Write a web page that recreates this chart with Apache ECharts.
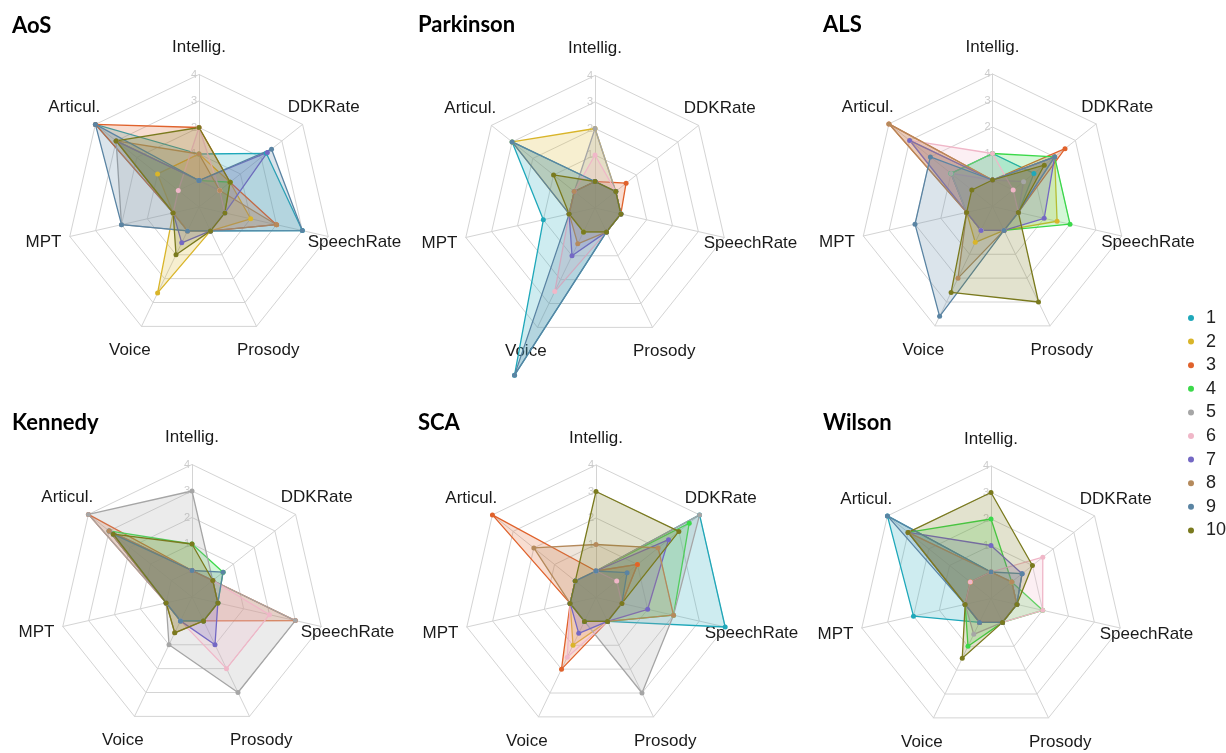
<!DOCTYPE html>
<html>
<head>
<meta charset="utf-8">
<script src="https://cdn.jsdelivr.net/npm/echarts@6/dist/echarts.min.js"></script>
<style>
html,body{margin:0;padding:0;background:#fff;}
#main{width:1226px;height:753px;}
</style>
</head>
<body>
<div id="main"></div>
<script>
// ---- data ----
const axisNames = ['Intellig.', 'DDKRate', 'SpeechRate', 'Prosody', 'Voice', 'MPT', 'Articul.'];
const groupNames = ['1', '2', '3', '4', '5', '6', '7', '8', '9', '10'];
const panelTitles = ['AoS', 'Parkinson', 'ALS', 'Kennedy', 'SCA', 'Wilson'];
const ringTicks = [1, 2, 3, 4];
const scaleMin = -1;
const scaleMax = 4;

// rows: groups 1..10 ; columns: Intellig., DDKRate, SpeechRate, Prosody, Voice, MPT, Articul.
const aosValues = [
  [1, 2.25, 3, 0, 0, 0, 4],
  [1, 0.5, 1, 0, 2.6, 0, 1],
  [2, 0.5, 2, 0, 0, 0, 4],
  [0, 0.5, 0, 0, 0, 0, 3],
  [0, 0, 0, 0, 0, 2, 3],
  [2, 0, 0, 0, 0, 0, 0],
  [0, 2.3, 0, 0, 0.5, 0, 3],
  [1, 0, 2, 0, 0, 0, 3],
  [0, 2.5, 3, 0, 0, 2, 4],
  [2, 0.5, 0, 0, 1, 0, 3]
];
const parkinsonValues = [
  [0, 0, 0, 0, 6, 1, 3],
  [2, 0, 0, 0, 0, 0, 3],
  [0, 0.5, 0, 0, 0, 0, 0],
  [0, 0, 0, 0, 0, 0, 0],
  [2, 0, 0, 0, 0, 0, 0],
  [1, 0, 0, 0, 2.5, 0, 0],
  [0, 0, 0, 0, 1, 0, 0],
  [0, 0, 0, 0, 0.5, 0, 0],
  [0, 0, 0, 0, 6, 0, 3],
  [0, 0, 0, 0, 0, 0, 1]
];
const alsValues = [
  [1, 1, 0, 0, 0, 0, 1],
  [0, 2, 1.5, 0, 0.5, 0, 3],
  [0, 2.5, 0, 0, 0, 0, 4],
  [1, 2, 2, 0, 0, 0, 1],
  [0, 0.5, 0, 0, 0, 0, 1],
  [1, 0, 0, 0, 0, 0, 3],
  [0, 2, 1, 0, 0, 0, 3],
  [0, 2, 0, 0, 2, 0, 4],
  [0, 2, 0, 0, 3.6, 2, 2],
  [0, 1.5, 0, 3, 2.6, 0, 0]
];
const kennedyValues = [
  [0, 0, 0, 0, 0, 0, 3],
  [0, 0, 0, 0, 0, 0, 3],
  [0, 0, 3, 0, 0, 0, 4],
  [1, 0.5, 0, 0, 0, 0, 3],
  [3, 0, 3, 3, 1, 0, 4],
  [0, 0, 2, 2, 0, 0, 3],
  [0, 0, 0, 1, 0, 0, 3],
  [0, 0, 0, 0, 0.5, 0, 3],
  [0, 0.5, 0, 0, 0, 0, 2.8],
  [1, 0, 0, 0, 0.5, 0, 2.8]
];
const scaValues = [
  [0, 4, 4, 0, 0, 0, 0],
  [0, 1, 0, 0, 1, 0, 0],
  [0, 1, 0, 0, 2, 0, 4],
  [0, 3.5, 2, 0, 0, 0, 0],
  [0, 4, 2, 3, 0, 0, 0],
  [0, 0, 0, 0, 1.5, 0, 0],
  [0, 2.5, 1, 0, 0.5, 0, 0],
  [1, 2, 2, 0, 0, 0, 2],
  [0, 0.5, 0, 0, 0, 0, 0],
  [3, 3, 0, 0, 0, 0, 0]
];
const wilsonValues = [
  [0, 0, 0, 0, 0, 2, 4],
  [0, 0, 0, 0, 0, 0, 0],
  [0, 0, 0, 0, 0, 0, 0],
  [2, 0, 1, 0, 1, 0, 3],
  [0, 0, 0, 0, 0.5, 0, 3],
  [0, 1.5, 1, 0, 0, 0, 0],
  [1, 0.5, 0, 0, 0, 0, 3],
  [0, 0, 0, 0, 0, 0, 3],
  [0, 0.5, 0, 0, 0, 0, 4],
  [3, 1, 0, 0, 1.5, 0, 3]
];

// ---- styling / layout ----
const palette = ['#1FA8BA', '#D9B52A', '#E0622C', '#3BD94A', '#A6A6A6',
                 '#F0B7C8', '#7468C4', '#B58A5C', '#5A84A3', '#7A7A1E'];
const panelValues = [aosValues, parkinsonValues, alsValues, kennedyValues, scaValues, wilsonValues];
const panelCenters = [[199, 207], [595, 208], [992.5, 206.5], [192, 597], [596, 597.5], [991, 598.5]];
const titlePos = [[12, 15], [418, 14], [823, 14], [12, 412], [418, 412], [823, 412]];
const R = 132.5;
// ECharts radar runs counter-clockwise; reference runs clockwise
const order = [0, 6, 5, 4, 3, 2, 1];

const chart = echarts.init(document.getElementById('main'));
const option = {
  animation: false,
  backgroundColor: '#fff',
  title: panelTitles.map((t, i) => ({
    text: t, left: titlePos[i][0], top: titlePos[i][1], padding: 0,
    textStyle: {fontFamily: 'Lato', fontWeight: 'bold', fontSize: 22, color: '#000'}
  })),
  legend: {
    orient: 'vertical', left: 1183, top: 303, icon: 'circle',
    itemWidth: 6, itemHeight: 6, itemGap: 3.6,
    data: groupNames,
    textStyle: {fontFamily: 'Liberation Sans', fontSize: 18, color: '#222', lineHeight: 20, padding: [0, 0, 0, 7]}
  },
  radar: panelCenters.map((c) => ({
    center: c, radius: R, startAngle: 90, splitNumber: 5, shape: 'polygon',
    indicator: order.map(k => ({name: axisNames[k], min: scaleMin, max: scaleMax})),
    nameGap: 27,
    axisName: {color: '#1a1a1a', fontSize: 17, fontFamily: 'Liberation Sans', align: 'center', verticalAlign: 'middle'},
    splitLine: {lineStyle: {color: '#d4d4d4', width: 1}},
    splitArea: {show: false},
    axisLine: {lineStyle: {color: '#d4d4d4', width: 1}},
    axisTick: {show: false},
    axisLabel: {show: false}
  })),
  polar: panelCenters.map(c => ({center: c, radius: R})),
  angleAxis: panelCenters.map((c, i) => ({polarIndex: i, startAngle: 90, show: false, min: 0, max: 360})),
  radiusAxis: panelCenters.map((c, i) => ({
    polarIndex: i, min: scaleMin, max: scaleMax, interval: 1,
    axisLine: {show: false}, axisTick: {show: false}, splitLine: {show: false},
    axisLabel: {color: '#cccccc', fontSize: 11, fontFamily: 'Liberation Sans', margin: 2,
      formatter: v => ringTicks.indexOf(v) >= 0 ? String(v) : ''}
  })),
  series: panelValues.map((vals, i) => ({
    type: 'radar', radarIndex: i, symbol: 'circle', symbolSize: 5,
    data: groupNames.map((g, j) => ({
      name: g,
      value: order.map(k => vals[j][k]),
      itemStyle: {color: palette[j]},
      lineStyle: {color: palette[j], width: 1.3},
      areaStyle: {color: palette[j], opacity: 0.22}
    }))
  }))
};
chart.setOption(option);
</script>
</body>
</html>
